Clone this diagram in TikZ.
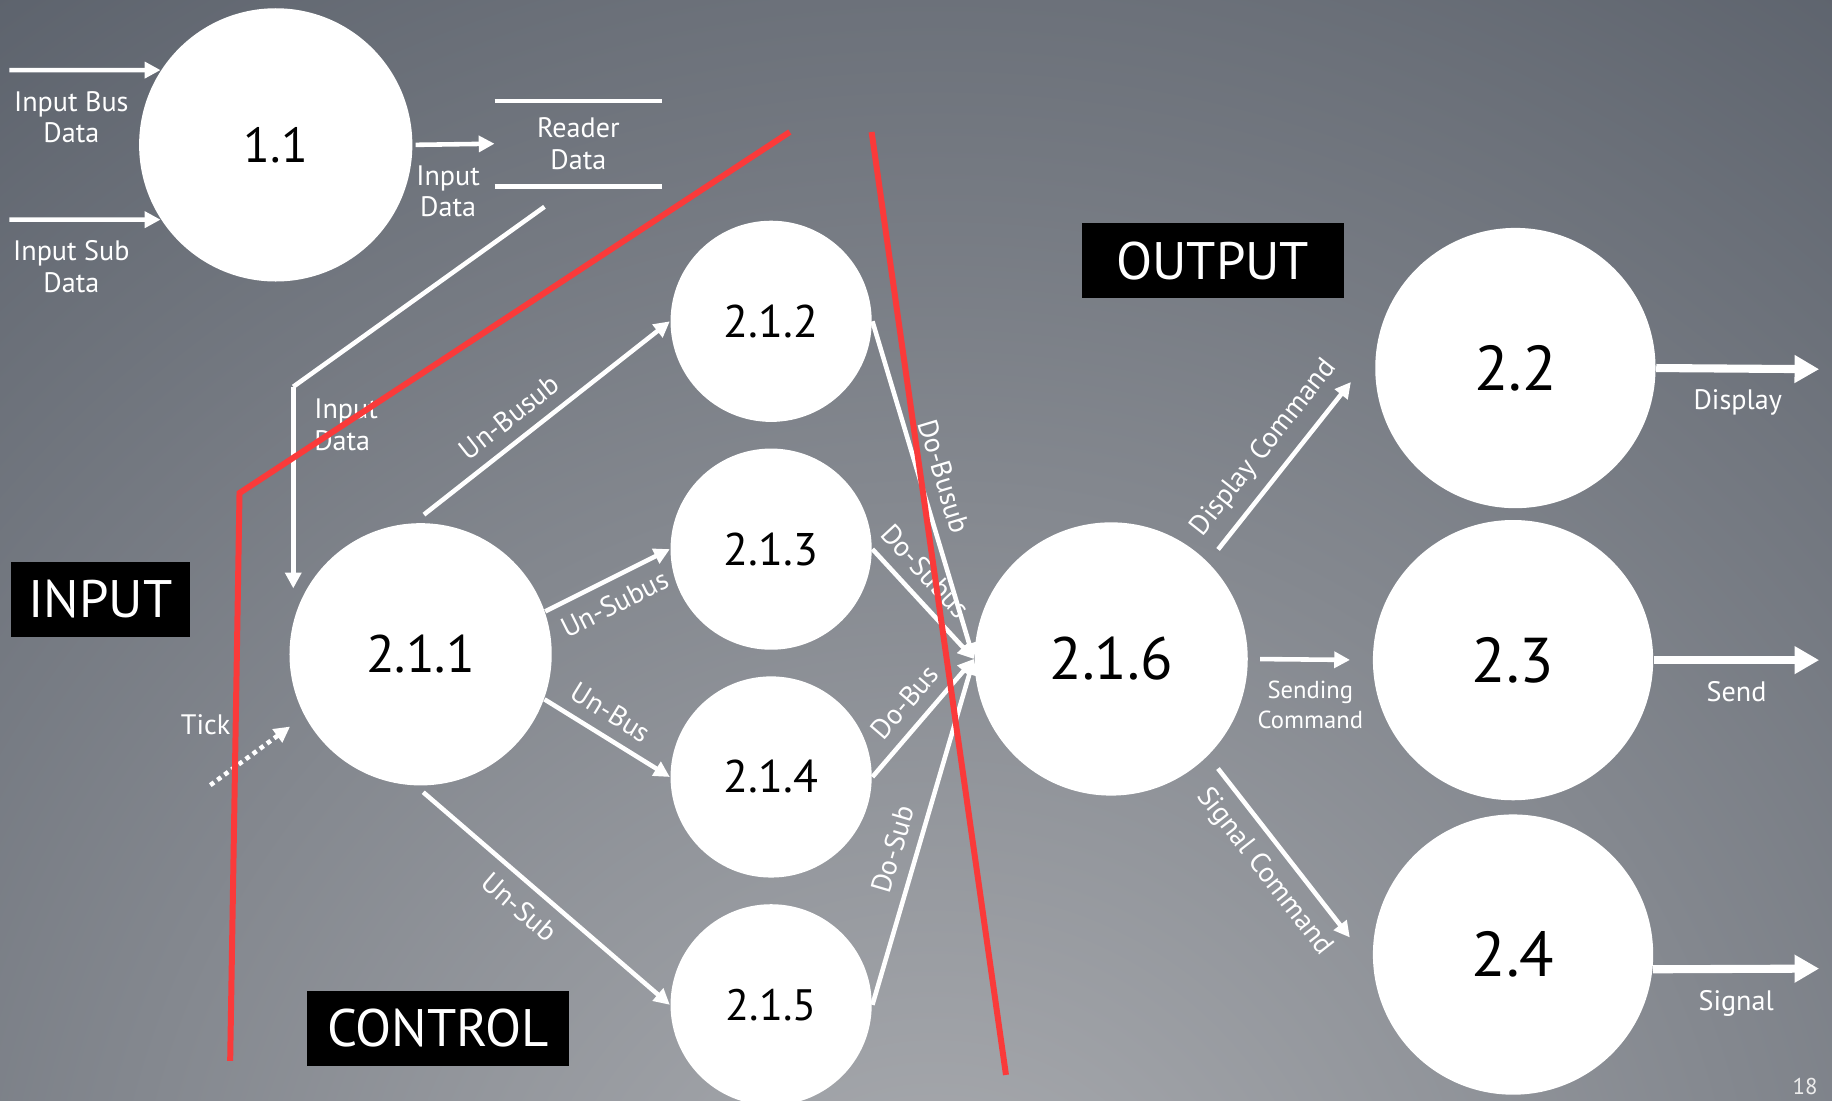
\documentclass[tikz,border=0pt]{standalone}
\usepackage{fontspec}
\setmainfont{PT Sans}
\usetikzlibrary{arrows.meta}

\definecolor{bgdark}{RGB}{92,98,108}
\definecolor{bglight}{RGB}{172,174,178}
\definecolor{cutred}{RGB}{250,58,58}

\begin{document}
\begin{tikzpicture}[x=0.01168cm,y=-0.01168cm,
  proc/.style={circle,fill=white,inner sep=0pt,minimum size=#1},
  flow/.style={white,line width=1.3pt,-{Triangle[length=4.5pt,width=4.5pt]}},
  bigflow/.style={white,line width=2.3pt,-{Triangle[length=7pt,width=7.5pt]}},
  lab/.style={white,font=\fontsize{8}{9}\selectfont,align=center},
  tag/.style={fill=black,text=white,font=\fontsize{15}{17}\selectfont,minimum height=0.75cm},
  cut/.style={cutred,line width=1.7pt}]
\fill[bgdark] (0,0) rectangle (1568,942);
\begin{scope}
  \clip (0,0) rectangle (1568,942);
  \shade[inner color=bglight,outer color=bgdark] (800,1120) circle[radius=1400];
\end{scope}
\useasboundingbox (0,0) rectangle (1568,942);

\node[proc=2.73cm,font=\fontsize{14}{14}\selectfont] (n11) at (236,124) {1.1};
\node[proc=2.62cm,font=\fontsize{15}{15}\selectfont] (n211) at (360,560) {2.1.1};
\node[proc=2.01cm,font=\fontsize{13}{13}\selectfont] (n212) at (660,275) {2.1.2};
\node[proc=2.01cm,font=\fontsize{13}{13}\selectfont] (n213) at (660,470) {2.1.3};
\node[proc=2.01cm,font=\fontsize{13}{13}\selectfont] (n214) at (660,665) {2.1.4};
\node[proc=2.01cm,font=\fontsize{12.5}{13}\selectfont] (n215) at (660,860) {2.1.5};
\node[proc=2.73cm,font=\fontsize{17}{17}\selectfont] (n216) at (951,564) {2.1.6};
\node[proc=2.80cm,font=\fontsize{18}{18}\selectfont] (n22) at (1297,315) {2.2};
\node[proc=2.80cm,font=\fontsize{18}{18}\selectfont] (n23) at (1295,565) {2.3};
\node[proc=2.80cm,font=\fontsize{18}{18}\selectfont] (n24) at (1295,817) {2.4};

\node[lab,minimum width=1.66cm,minimum height=0.84cm] (rd) at (495,123) {Reader\\Data};
\draw[white,line width=1.3pt] (rd.north west) -- (rd.north east) (rd.south west) -- (rd.south east);

\node[tag,minimum width=1.78cm] (tin) at (86,513) {INPUT};
\node[tag,minimum width=2.62cm] (tctl) at (375,880) {CONTROL};
\node[tag,minimum width=2.62cm] (tout) at (1038,223) {OUTPUT};

\coordinate (busin) at (8,60);
\coordinate (subin) at (8,188);
\coordinate (rdout) at (466,177);
\coordinate (bend) at (251,331);
\coordinate (tick) at (180,672);
\coordinate (dispout) at (1557,316);
\coordinate (sendout) at (1557,565);
\coordinate (sigout) at (1557,829);

\draw[flow] (busin) -- node[lab,below=2pt,pos=.41] {Input Bus\\Data} (n11.147);
\draw[flow] (subin) -- node[lab,below=2pt,pos=.41] {Input Sub\\Data} (n11.213);
\draw[flow,shorten <=0.7pt] (n11.0) -- node[lab,below=2pt,pos=.43] {Input\\Data} (rd.west);
\draw[white,line width=1.3pt] (rdout) -- (bend);
\draw[flow] (bend) -- node[lab,right=2pt,pos=0.19,align=left] {Input\\Data} (bend |- n211.150);
\draw[flow,dash pattern=on 1.3pt off 1.2pt,shorten >=5pt] (tick) -- (n211.208);
\node[lab] (ticklab) at (176,620) {Tick};

\draw[flow,shorten <=3.7pt] (n211.93) -- node[lab,sloped,above,pos=.43] {Un-Busub} (n212.180);
\draw[flow] (n211.19) -- node[lab,sloped,below,pos=.47] {Un-Subus} (n213.180);
\draw[flow] (n211.-20) -- node[lab,sloped,above,pos=.43] {Un-Bus} (n214.180);
\draw[flow,shorten <=2.7pt] (n211.-92) -- node[lab,sloped,below,pos=.47] {Un-Sub} (n215.180);

\draw[flow] (n212.0) -- node[lab,sloped,above,pos=.48] {Do-Busub} (n216.180);
\draw[flow] (n213.0) -- node[lab,sloped,above,pos=.35] {Do-Subus} (n216.180);
\draw[flow] (n214.0) -- node[lab,sloped,above,pos=.5] {Do-Bus} (n216.180);
\draw[flow] (n215.0) -- node[lab,sloped,above,pos=.43] {Do-Sub} (n216.180);

\draw[flow,shorten <=4.5pt,shorten >=11.3pt] (n216.45) -- node[lab,sloped,above,pos=.46] {Display Command} (n22.173);
\draw[flow,shorten <=3.3pt,shorten >=6.3pt] (n216.0) -- node[lab,below=2pt,font=\fontsize{7}{8.5}\selectfont] {Sending\\Command} (n23.180);
\draw[flow,shorten <=4.5pt,shorten >=10.6pt] (n216.-45) -- node[lab,sloped,below,pos=.47] {Signal Command} (n24.185);

\draw[bigflow] (n22.0) -- node[lab,below=1.5pt] {Display} (dispout);
\draw[bigflow] (n23.0) -- node[lab,below=1.5pt] {Send} (sendout);
\draw[bigflow] (n24.-6) -- node[lab,below=1.5pt] {Signal} (sigout);

\draw[cut] (197,908) -- (205,422) -- (676,113);
\draw[cut] (746,113) -- (861,920);

\node[text=white!85!gray,font=\fontsize{6.5}{7}\selectfont] (pg) at (1545,930) {18};
\end{tikzpicture}
\end{document}
